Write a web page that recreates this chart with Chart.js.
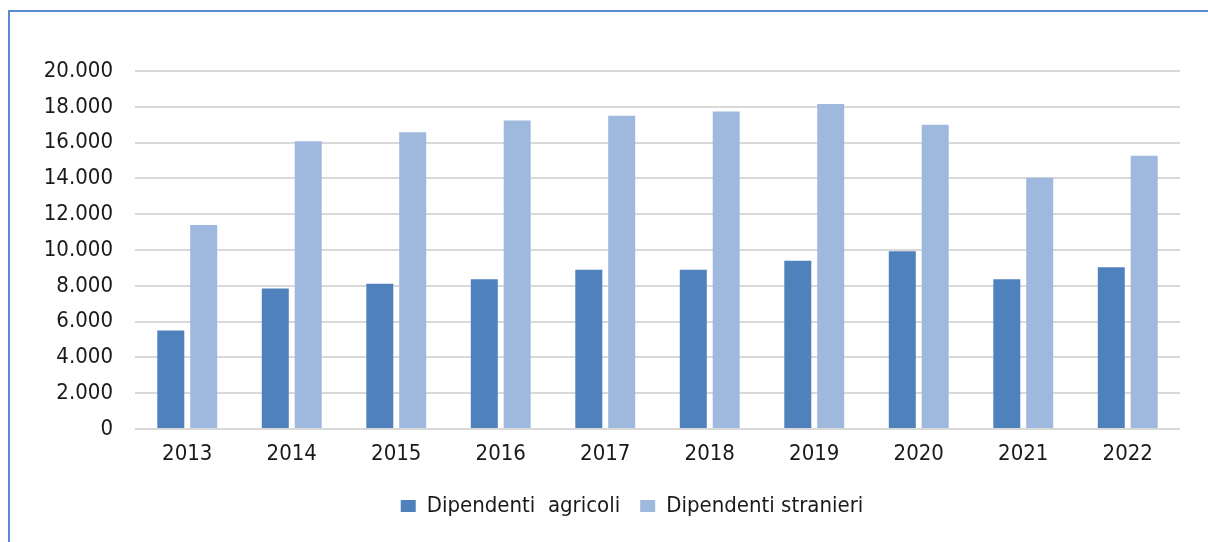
<!DOCTYPE html>
<html>
<head>
<meta charset="utf-8">
<script src="https://cdn.jsdelivr.net/npm/chart.js@4.4.0/dist/chart.umd.min.js"></script>
<style>
  html, body { margin:0; padding:0; background:#fff; overflow:hidden; }
  #frame { position:absolute; left:8px; top:10px; width:1300px; height:700px; border:2px solid #5b8bcf; }
  #wrap { position:absolute; left:0; top:0; width:1208px; height:542px; }
</style>
</head>
<body>
<div id="frame"></div>
<div id="wrap"><canvas id="myChart"></canvas></div>
<script>
var years = ['2013','2014','2015','2016','2017','2018','2019','2020','2021','2022'];
var agricoli = [5500, 7850, 8120, 8370, 8900, 8900, 9400, 9930, 8370, 9030];
var stranieri = [11400, 16070, 16580, 17230, 17500, 17740, 18160, 17000, 14040, 15270];
var yTicks = [0, 2000, 4000, 6000, 8000, 10000, 12000, 14000, 16000, 18000, 20000];

var fontFam = '"Liberation Sans Narrow", "DejaVu Sans Condensed", "Roboto", sans-serif';
Chart.defaults.font.family = fontFam;
Chart.defaults.color = '#1a1a1a';

function fmt(v){
    return v.toString().replace(/\B(?=(\d{3})+(?!\d))/g, '.');
}

// the y labels sit in the left padding, so widen the y box after layout (only used for label clipping)
var unclipY = {
    id: 'unclipY',
    afterLayout: function(chart){ chart.scales.y.left = 0; }
};

var ctx = document.getElementById('myChart').getContext('2d');
var myChart = new Chart(ctx, {
    type: 'bar',
    data: {
        labels: years,
        datasets: [
            {
                label: 'Dipendenti  agricoli',
                data: agricoli,
                backgroundColor: '#4f81bd',
                categoryPercentage: 0.63,
                barPercentage: 0.82
            },
            {
                label: 'Dipendenti stranieri',
                data: stranieri,
                backgroundColor: '#9fb8de',
                categoryPercentage: 0.63,
                barPercentage: 0.82
            }
        ]
    },
    plugins: [unclipY],
    options: {
        responsive: true,
        maintainAspectRatio: false,
        animation: false,
        layout: { padding: { left: 84, right: 28, top: 71, bottom: 15 } },
        plugins: {
            legend: {
                position: 'bottom',
                labels: {
                    boxWidth: 15,
                    boxHeight: 12,
                    padding: 20,
                    font: { size: 22 }
                }
            },
            tooltip: { enabled: false }
        },
        scales: {
            x: {
                grid: { display: false, drawTicks: false },
                border: { display: false },
                ticks: { font: { size: 22 }, padding: 12 },
                afterFit: function(s){ s.height = 46; }
            },
            y: {
                min: 0,
                max: 20000,
                afterBuildTicks: function(s){ s.ticks = yTicks.map(function(v){ return {value: v}; }); },
                grid: { color: '#d9d9d9', lineWidth: 2, drawTicks: false },
                border: { display: false },
                ticks: { font: { size: 22 }, padding: 22, callback: function(v){ return fmt(v); } },
                afterFit: function(s){ s.width = 51; }
            }
        }
    }
});
</script>
</body>
</html>
